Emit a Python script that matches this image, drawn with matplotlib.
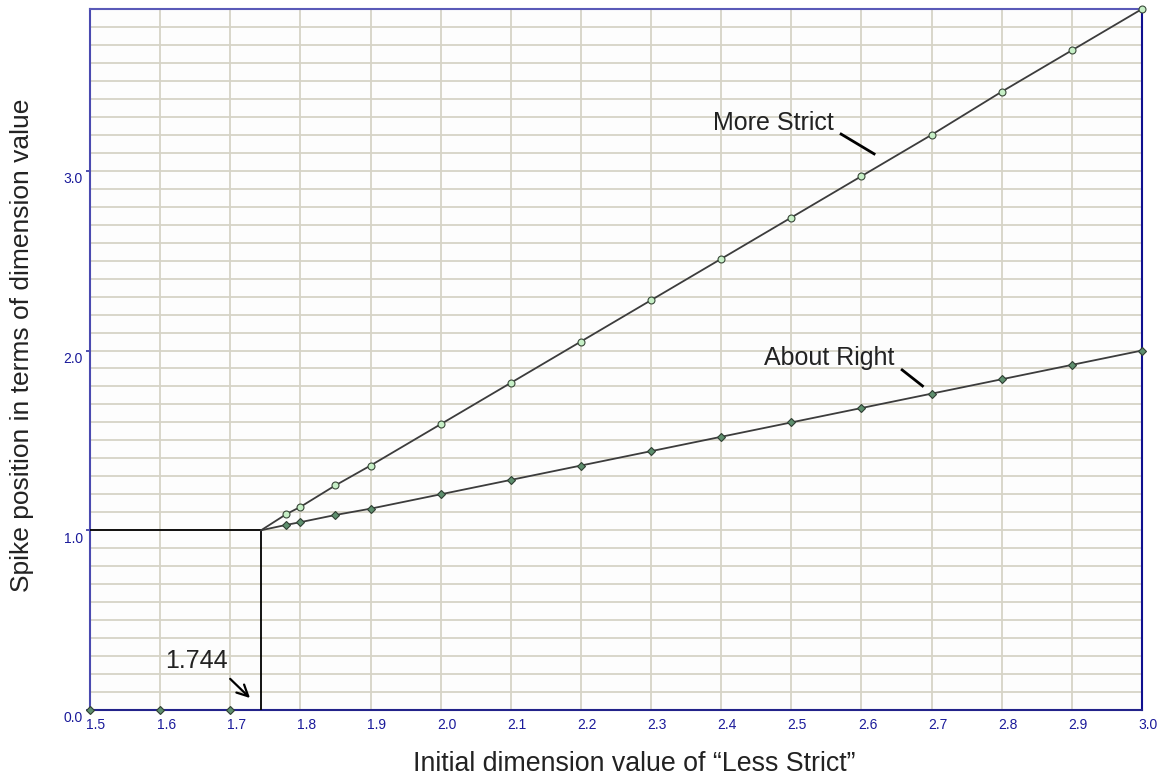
import matplotlib.pyplot as plt
from matplotlib.ticker import MultipleLocator, FixedLocator
import matplotlib.transforms as mtransforms

plt.rcParams['font.family'] = ['Liberation Sans', 'DejaVu Sans']

# data
x_zero = [1.5, 1.6, 1.7]
y_zero = [0.0, 0.0, 0.0]

x_break = 1.744
x_pts = [1.78, 1.8, 1.85, 1.9, 2.0, 2.1, 2.2, 2.3, 2.4, 2.5, 2.6, 2.7, 2.8, 2.9, 3.0]
more_strict = [1.09, 1.13, 1.25, 1.36, 1.59, 1.82, 2.05, 2.28, 2.51, 2.74, 2.97, 3.20, 3.44, 3.67, 3.90]
about_right = [1.03, 1.045, 1.085, 1.12, 1.20, 1.28, 1.36, 1.44, 1.52, 1.60, 1.68, 1.76, 1.84, 1.92, 2.00]

x_ticks = [1.5, 1.6, 1.7, 1.8, 1.9, 2.0, 2.1, 2.2, 2.3, 2.4, 2.5, 2.6, 2.7, 2.8, 2.9, 3.0]
y_ticks = [0.0, 1.0, 2.0, 3.0]

W, H = 1162, 779
fig = plt.figure(figsize=(W / 100, H / 100), dpi=100)
fig.patch.set_facecolor('white')
ax = fig.add_axes([90 / W, (H - 710) / H, 1052 / W, 701 / H])
ax.set_facecolor('#fdfdfd')

ax.set_xlim(1.5, 3.0)
ax.set_ylim(0.0, 3.9)

# grid
grid_col = '#d6d3c6'
ax.xaxis.set_major_locator(FixedLocator(x_ticks))
ax.yaxis.set_major_locator(FixedLocator(y_ticks))
ax.yaxis.set_minor_locator(MultipleLocator(0.1))
ax.grid(True, which='major', color=grid_col, lw=1.3, zorder=0)
ax.grid(True, which='minor', axis='y', color=grid_col, lw=1.3, zorder=0)
ax.set_axisbelow(True)

ax.set_xticklabels([f'{v:.1f}' for v in x_ticks])
ax.set_yticklabels([f'{v:.1f}' for v in y_ticks])
tick_col = '#1a1a9a'
ax.tick_params(axis='x', which='both', length=0, pad=6, labelsize=10, labelcolor=tick_col)
ax.tick_params(axis='y', which='major', length=3, width=1.2, color='#3030a0', pad=2,
               labelsize=10, labelcolor=tick_col)
ax.tick_params(axis='y', which='minor', length=0)
for lab in ax.get_xticklabels():
    lab.set_transform(lab.get_transform() + mtransforms.ScaledTranslation(6 / 100, 0, fig.dpi_scale_trans))
for lab in ax.get_yticklabels():
    lab.set_transform(lab.get_transform() + mtransforms.ScaledTranslation(0, -7 / 100, fig.dpi_scale_trans))

for side, col in [('left', '#4a4ab0'), ('top', '#5a5ab8'), ('bottom', '#23238a'), ('right', '#10108f')]:
    ax.spines[side].set_color(col)
    ax.spines[side].set_linewidth(1.5)

# reference lines
ax.plot([1.5, x_break], [1.0, 1.0], color='black', lw=1.3, zorder=3)
ax.plot([x_break, x_break], [0.0, 1.0], color='black', lw=1.3, zorder=3)

line_col = '#3c3c3c'
ax.plot([x_break] + x_pts, [1.0] + more_strict, color=line_col, lw=1.3, zorder=4)
ax.plot([x_break] + x_pts, [1.0] + about_right, color=line_col, lw=1.3, zorder=4)
ax.plot(x_pts, more_strict, ls='none', marker='o', ms=5, mfc='#c6efc6', mec='#3a4a3a',
        mew=0.8, zorder=5, clip_on=False)
ax.plot(x_pts, about_right, ls='none', marker='D', ms=4.5, mfc='#5e8f6e', mec='#2f3f33',
        mew=0.8, zorder=5, clip_on=False)
ax.plot(x_zero, y_zero, ls='none', marker='D', ms=4.5, mfc='#5e8f6e', mec='#2f3f33',
        mew=0.8, zorder=6, clip_on=False)

# annotations
txt_col = '#222222'
ax.text(2.388, 3.267, 'More Strict', fontsize=18, color=txt_col, ha='left', va='center')
ax.plot([2.571, 2.618], [3.204, 3.094], color='black', lw=2, zorder=4)
ax.text(2.461, 1.957, 'About Right', fontsize=18, color=txt_col, ha='left', va='center')
ax.plot([2.658, 2.687], [1.892, 1.803], color='black', lw=2, zorder=4)
ax.text(1.607, 0.274, '1.744', fontsize=18, color=txt_col, ha='left', va='center')
ax.annotate('', xy=(1.731, 0.056), xytext=(1.697, 0.184),
            arrowprops=dict(arrowstyle='->', color='black', lw=1.6, mutation_scale=20))

fig.text(634 / W, 1 - 764 / H, 'Initial dimension value of \u201cLess Strict\u201d',
         fontsize=19.3, color=txt_col, ha='center', va='center')
fig.text(22 / W, 1 - 345 / H, 'Spike position in terms of dimension value',
         fontsize=19, color=txt_col, ha='center', va='center', rotation=90)

fig.savefig('out.png', dpi=100, facecolor='white')
